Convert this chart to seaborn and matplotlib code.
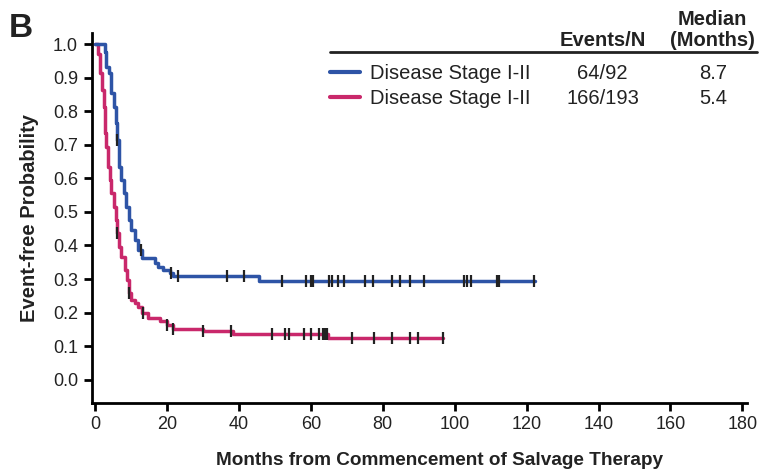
import numpy as np
import pandas as pd
import matplotlib
matplotlib.use("Agg")
import matplotlib.pyplot as plt
import seaborn as sns
from matplotlib.lines import Line2D

# Kaplan-Meier steps (months, probability)
blue_t = [0, 2.7, 3.1, 3.9, 4.5, 5.2, 5.8, 6.1, 6.7, 7.3, 8.0, 8.7, 9.5, 10.1, 11.0,
          12.0, 13.2, 16.7, 17.6, 19.0, 20.9, 21.8, 45.6, 122.4]
blue_s = [1.0, 0.978, 0.932, 0.914, 0.854, 0.813, 0.765, 0.714, 0.635, 0.595, 0.557,
          0.516, 0.476, 0.446, 0.417, 0.387, 0.362, 0.347, 0.337, 0.327, 0.318,
          0.308, 0.293, 0.293]
blue_cens = [6.1, 12.9, 21.1, 23.0, 36.6, 41.3, 52.1, 58.7, 60.2, 60.6, 65.0, 65.9,
             67.7, 69.2, 75.0, 77.2, 82.7, 84.9, 87.7, 91.5, 102.6, 103.4, 104.6,
             111.8, 112.2, 122.2]

mag_t = [0, 0.8, 1.3, 1.5, 2.0, 2.4, 2.7, 3.1, 3.6, 4.1, 4.5, 5.2, 5.8, 6.1, 6.7, 7.3,
         8.3, 9.0, 9.6, 10.1, 11.0, 12.0, 13.2, 14.7, 18.1, 20.0, 21.8, 30.1, 38.5,
         64.9, 96.9]
mag_s = [1.0, 0.972, 0.952, 0.913, 0.863, 0.813, 0.734, 0.694, 0.635, 0.595, 0.556,
         0.516, 0.476, 0.437, 0.397, 0.367, 0.327, 0.298, 0.258, 0.238, 0.228, 0.218,
         0.198, 0.184, 0.174, 0.164, 0.151, 0.144, 0.137, 0.124, 0.124]
mag_cens = [6.1, 9.6, 13.3, 20.1, 21.8, 30.1, 37.8, 49.2, 52.9, 54.0, 58.2, 60.1, 62.4,
            63.4, 63.9, 64.4, 71.4, 77.6, 82.7, 87.6, 89.8, 96.9]

labels = ["Disease Stage I-II", "Disease Stage I-II"]
events = ["64/92", "166/193"]
medians = ["8.7", "5.4"]
colors = ["#2E54A6", "#C9286B"]


def step_value(times, surv, c):
    i = np.searchsorted(times, c, side="right") - 1
    return surv[i]


curves = pd.concat([
    pd.DataFrame({"month": mag_t, "prob": mag_s, "grp": "mag"}),
    pd.DataFrame({"month": blue_t, "prob": blue_s, "grp": "blue"}),
])
cens = pd.concat([
    pd.DataFrame({"month": blue_cens,
                  "prob": [step_value(blue_t, blue_s, c) for c in blue_cens]}),
    pd.DataFrame({"month": mag_cens,
                  "prob": [step_value(mag_t, mag_s, c) for c in mag_cens]}),
])

sns.set_style("ticks")
plt.rcParams["font.family"] = ["Liberation Sans", "DejaVu Sans"]

fig = plt.figure(figsize=(7.6, 4.73), dpi=100)
ax = fig.add_axes([0.121, 0.149, 0.862, 0.781])

sns.lineplot(data=curves, x="month", y="prob", hue="grp",
             palette={"blue": colors[0], "mag": colors[1]},
             drawstyle="steps-post", estimator=None, legend=False,
             linewidth=2.5, ax=ax)
sns.scatterplot(data=cens, x="month", y="prob", marker="|", s=70,
                color="#222222", linewidth=1.6, ax=ax, zorder=5)

ax.set_xlim(-0.83, 181.3)
ax.set_ylim(-0.068, 1.033)
ax.set_xticks(np.arange(0, 181, 20))
ax.set_yticks(np.arange(0, 1.01, 0.1))
ax.set_yticklabels([f"{v:.1f}" for v in np.arange(0, 1.01, 0.1)])
sns.despine(ax=ax)
for sp in ["left", "bottom"]:
    ax.spines[sp].set_linewidth(2)
    ax.spines[sp].set_color("black")
ax.tick_params(length=6, width=2, labelsize=13, colors="black",
               labelcolor="#222222", pad=4)

ax.set_xlabel("Months from Commencement of Salvage Therapy", fontsize=13.7,
              fontweight="bold", color="#222222")
ax.xaxis.set_label_coords(0.53, -0.133)
ax.set_ylabel("Event-free Probability", fontsize=14.5, fontweight="bold",
              labelpad=10, color="#222222")

fig.text(0.012, 0.940, "B", fontsize=24, fontweight="bold", va="center",
         color="#222222")

# table-style legend
fig.add_artist(Line2D([0.434, 0.996], [0.890, 0.890], color="#222222", lw=2))
fig.text(0.793, 0.915, "Events/N", ha="center", va="center", fontsize=14.5,
         fontweight="bold", color="#222222")
fig.text(0.937, 0.958, "Median", ha="center", va="center", fontsize=14.5,
         fontweight="bold", color="#222222")
fig.text(0.937, 0.915, "(Months)", ha="center", va="center", fontsize=14.5,
         fontweight="bold", color="#222222")
for i, yy in enumerate([0.848, 0.795]):
    fig.add_artist(Line2D([0.434, 0.474], [yy, yy], color=colors[i], lw=3))
    fig.text(0.487, yy - 0.004, labels[i], va="center", fontsize=14.5,
             color="#222222")
    fig.text(0.793, yy - 0.004, events[i], ha="center", va="center",
             fontsize=14.5, color="#222222")
    fig.text(0.938, yy - 0.004, medians[i], ha="center", va="center",
             fontsize=14.5, color="#222222")

fig.savefig("out.png", dpi=100)
